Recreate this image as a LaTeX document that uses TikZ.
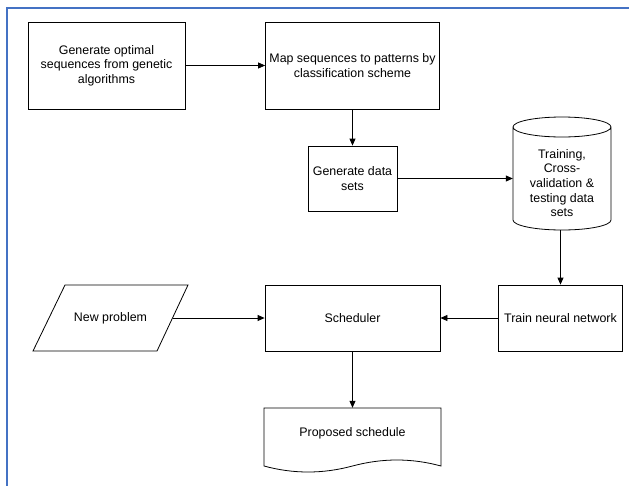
\documentclass[tikz,border=0pt]{standalone}
\usepackage{fontspec}
\setmainfont{Liberation Sans}
\usetikzlibrary{arrows.meta}
\definecolor{frameblue}{HTML}{4472C4}

\begin{document}
\begin{tikzpicture}
[x=1pt, y=-1pt,
 every node/.style={inner sep=0pt, align=center, font=\fontsize{12.4}{14.6}\selectfont},
 box/.style={rectangle, draw=black, line width=0.8pt},
 bare/.style={rectangle},
 outline/.style={line width=0.8pt, draw=black},
 link/.style={line width=0.8pt, -{Triangle[length=7pt, width=6pt]}, color=black}]
\useasboundingbox (0,0) rectangle (629,485);
\draw [line width=2pt, color=frameblue] (6.5,490) -- (6.5,7.5) -- (640,7.5);
\node (gen) [box, minimum width=157pt, minimum height=87pt] at (106.5, 65.5) {Generate optimal\\sequences from genetic\\algorithms};
\node (map) [box, minimum width=174pt, minimum height=87pt] at (352.5, 65.5) {Map sequences to patterns by\\classification scheme};
\node (data) [box, minimum width=89pt, minimum height=65pt] at (352.5, 178.5) {Generate data\\sets};
\node (sets) [bare, minimum width=98pt, minimum height=94pt] at (562, 183) {Training,\\Cross-\\validation \&\\testing data\\sets};
\node (train) [box, minimum width=124pt, minimum height=66pt] at (560.5, 318) {Train neural network};
\node (sched) [box, minimum width=175pt, minimum height=66pt] at (352.5, 318) {Scheduler};
\node (np) [bare, minimum width=124pt, minimum height=66pt] at (110.5, 318) {New problem};
\node (doc) [bare, minimum width=177pt, minimum height=50pt] at (352.5, 433) {Proposed schedule};
% outlines of the non-rectangular shapes
\draw [outline] (513,127) -- (513,220) arc[start angle=180, end angle=360, x radius=49pt, y radius=10pt] -- (611,127) arc[start angle=0, end angle=180, x radius=49pt, y radius=10pt] arc[start angle=180, end angle=360, x radius=49pt, y radius=10pt];
\draw [outline] (65,285) -- (188,285) -- (157,351) -- (33,351) -- cycle;
\draw [outline] (264,408) -- (441,408) -- (441,466) .. controls (411.7,458) and (382.2,458) .. (352.5,466) .. controls (322.8,474) and (293.3,474) .. (264,466) -- cycle;
% connectors
\draw [link] (gen) to (map);
\draw [link] (map) to (data);
\draw [link] (data.east) to (data.east -| sets.west);
\draw [link] (sets.south -| train.north) to (train.north);
\draw [link] (train) to (sched);
\draw [link] (np) to (sched);
\draw [link] (sched) to (doc);
\end{tikzpicture}
\end{document}
